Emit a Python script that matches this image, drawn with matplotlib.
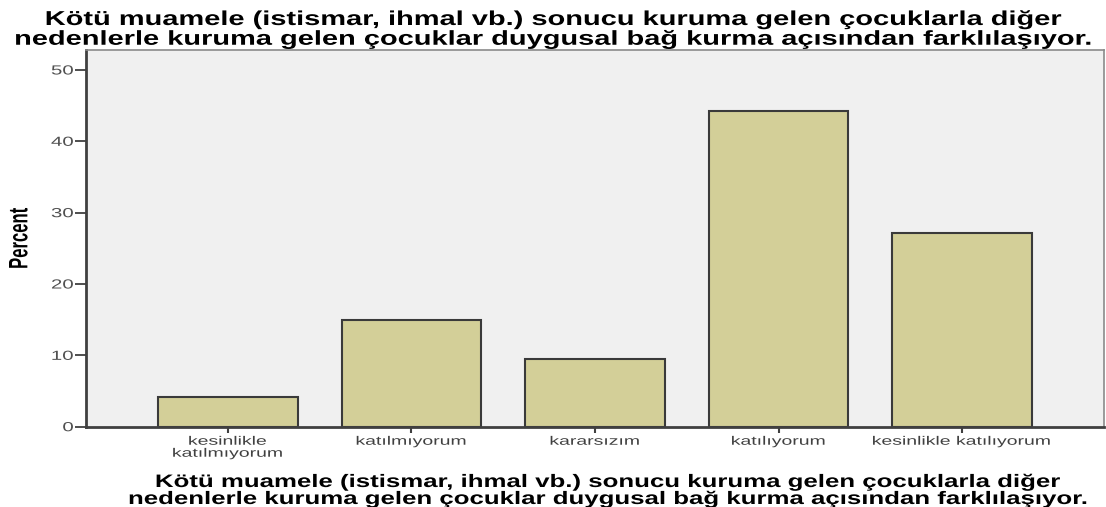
import matplotlib
matplotlib.use("Agg")
import matplotlib.pyplot as plt
from matplotlib import patheffects
from matplotlib.transforms import Affine2D

# veriler
kategoriler = ["kesinlikle\nkatılmıyorum", "katılmıyorum", "kararsızım",
               "katılıyorum", "kesinlikle katılıyorum"]
yuzdeler = [4.1, 15.0, 9.5, 44.2, 27.2]
y_ticks = [0, 10, 20, 30, 40, 50]
baslik = ("Kötü muamele (istismar, ihmal vb.) sonucu kuruma gelen çocuklarla diğer\n"
          "nedenlerle kuruma gelen çocuklar duygusal bağ kurma açısından farklılaşıyor.")


class HStretch(patheffects.AbstractPathEffect):
    # orijinal grafik yatayda gerilmis, yaziyi da ayni sekilde geriyoruz
    def __init__(self, sx, anchor='center'):
        super().__init__()
        self.sx = sx
        self.anchor = anchor

    def draw_path(self, renderer, gc, tpath, affine, rgbFace=None):
        bb = tpath.get_extents(affine)
        x0 = bb.x1 if self.anchor == 'right' else (bb.x0 + bb.x1) / 2
        t = affine + Affine2D().translate(-x0, 0).scale(self.sx, 1).translate(x0, 0)
        renderer.draw_path(gc, tpath, t, rgbFace)


plt.rcParams['font.family'] = ['Liberation Sans', 'DejaVu Sans']

fig = plt.figure(figsize=(11.06, 5.07), dpi=100)
W, H = 1106, 507
ax = fig.add_axes([86 / W, 1 - 426.7 / H, (1104 - 86) / W, (426.7 - 50) / H])
ax.set_facecolor('#f0f0f0')

x = range(len(kategoriler))
ax.bar(x, yuzdeler, width=0.76, color='#d3cf98', edgecolor='#3a3a3a', linewidth=1.5, zorder=2)

ax.set_xlim(-0.773, 4.773)
ax.set_ylim(0, 52.8)
ax.set_yticks(y_ticks)
ax.set_xticks(list(x))
ax.set_xticklabels(kategoriler, fontsize=8.8, color='#404040', linespacing=1.0)
ax.tick_params(axis='y', labelsize=9.5, labelcolor='#505050', length=8, width=1.3,
               color='#404040', pad=1)
ax.tick_params(axis='x', length=4.5, width=1.5, color='#404040', pad=2)

for lbl in ax.get_xticklabels():
    lbl.set_path_effects([HStretch(1.59)])
for lbl in ax.get_yticklabels():
    lbl.set_path_effects([HStretch(1.55, 'right')])

for s in ['left', 'bottom']:
    ax.spines[s].set_color('#404040')
    ax.spines[s].set_linewidth(2)
for s in ['top', 'right']:
    ax.spines[s].set_color('#8a8a8a')
    ax.spines[s].set_linewidth(1.2)

ylab = ax.set_ylabel('Percent', fontweight='bold', fontsize=12)
ylab.set_path_effects([HStretch(1.6)])
ax.yaxis.set_label_coords(-0.058, 0.5)

t1 = fig.text(0.5, 1 - 10 / H, baslik, ha='center', va='top', fontsize=14.5,
              fontweight='bold', linespacing=1.05)
t1.set_path_effects([HStretch(1.44)])
t2 = fig.text(607 / W, 1 - 474 / H, baslik, ha='center', va='top', fontsize=13,
              fontweight='bold', linespacing=1.0)
t2.set_path_effects([HStretch(1.43)])

fig.savefig('out.png', dpi=100)
